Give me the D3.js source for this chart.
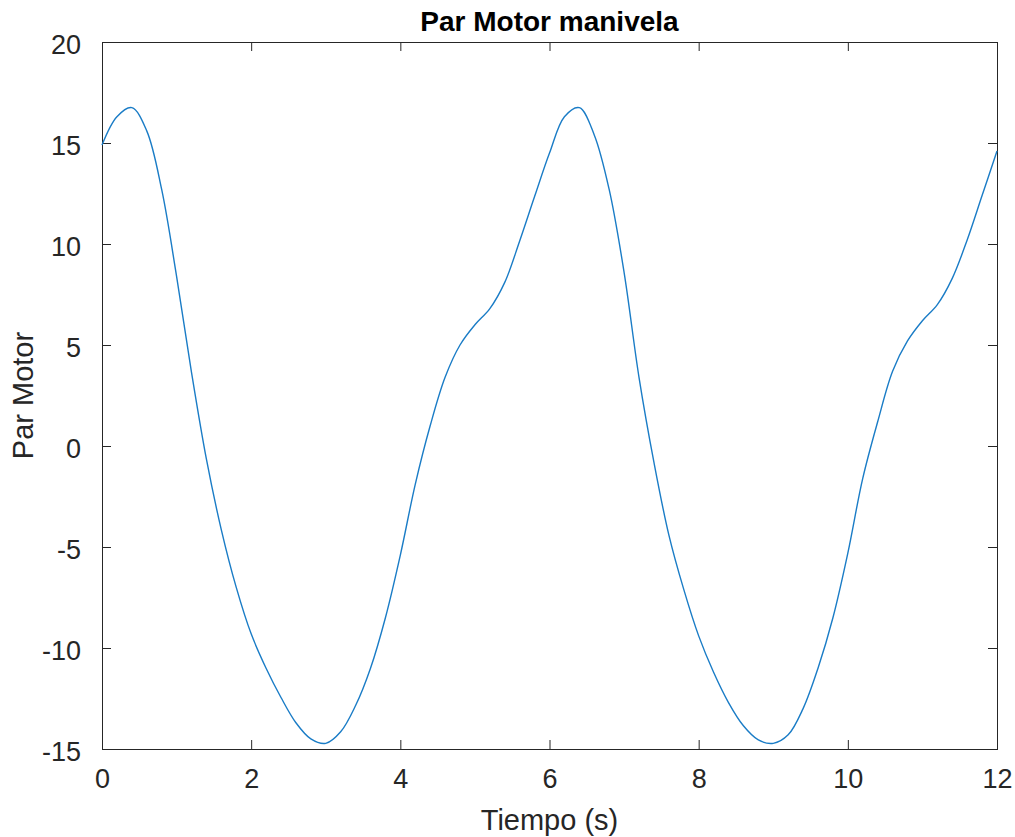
<!DOCTYPE html>
<meta charset="utf-8">
<style>
body { margin: 0; background: #fff; }
.chart text { font-family: "Liberation Sans", Arial, Helvetica, sans-serif; fill: #262626; }
.chart .axis path, .chart .axis line { stroke: #262626; }
.chart .frame { fill: none; stroke: #262626; stroke-width: 1; }
.chart .series { fill: none; stroke: #1a7cc6; stroke-width: 1.4; }
</style>
<body>
<svg class="chart js-chart"></svg>
<script src="https://cdn.jsdelivr.net/npm/d3@7"></script>
<script>
"use strict";

// values, t = 0 .. 12 step 0.2
var tiempo = d3.range(0, 61).map(function(i) { return +(i * 0.2).toFixed(1); });
var parMotor = [
    14.9, 16.3, 16.75, 15.6, 12.7, 8.4, 3.65, -0.65, -4.15, -7.0,
    -9.3, -11.0, -12.45, -13.7, -14.5, -14.72, -14.15, -12.85, -11.0, -8.5,
    -5.4, -1.9, 1.0, 3.4, 5.0, 6.0, 6.8, 8.1, 10.15, 12.35,
    14.5, 16.3, 16.75, 15.4, 12.7, 8.6, 3.4, -0.8, -4.4, -7.1,
    -9.4, -11.2, -12.7, -13.85, -14.55, -14.72, -14.3, -13.0, -11.0, -8.5,
    -5.3, -1.6, 1.2, 3.7, 5.2, 6.2, 7.0, 8.3, 10.2, 12.4,
    14.6
];
var xTicks = [0, 2, 4, 6, 8, 10, 12];
var yTicks = [-15, -10, -5, 0, 5, 10, 15, 20];

var margin = { top: 42, right: 18, bottom: 88, left: 102 },
    containerWidth = 1015,
    containerHeight = 837,
    width = containerWidth - margin.left - margin.right,
    height = containerHeight - margin.top - margin.bottom,
    tickLen = 9;

var svg = d3.select(".js-chart")
    .attr("width", containerWidth)
    .attr("height", containerHeight);

var g = svg.append("g")
    .attr("transform", "translate(" + margin.left + "," + margin.top + ")");

var x = d3.scaleLinear().domain([0, 12]).range([0, width]);
var y = d3.scaleLinear().domain([-15, 20]).range([height, 0]);

var plainNumber = function(d) { return String(d); };

// bottom axis with labels
g.append("g")
    .attr("class", "axis")
    .attr("transform", "translate(0," + height + ")")
    .call(d3.axisBottom(x).tickValues(xTicks).tickFormat(plainNumber)
        .tickSizeInner(-tickLen).tickSizeOuter(0).tickPadding(20))
    .call(function(s) {
        s.select(".domain").remove();
        s.selectAll("text").attr("font-size", 27).attr("font-family", null);
    });

// top ticks
g.append("g")
    .attr("class", "axis")
    .call(d3.axisTop(x).tickValues(xTicks).tickSizeInner(-tickLen).tickSizeOuter(0).tickFormat(""))
    .call(function(s) { s.select(".domain").remove(); });

// left axis with labels
g.append("g")
    .attr("class", "axis")
    .call(d3.axisLeft(y).tickValues(yTicks).tickFormat(plainNumber)
        .tickSizeInner(-tickLen).tickSizeOuter(0).tickPadding(21))
    .call(function(s) {
        s.select(".domain").remove();
        s.selectAll("text").attr("font-size", 27).attr("font-family", null).attr("dy", "0.42em");
    });

// right ticks
g.append("g")
    .attr("class", "axis")
    .attr("transform", "translate(" + width + ",0)")
    .call(d3.axisRight(y).tickValues(yTicks).tickSizeInner(-tickLen).tickSizeOuter(0).tickFormat(""))
    .call(function(s) { s.select(".domain").remove(); });

g.append("rect")
    .attr("class", "frame")
    .attr("x", 0.5)
    .attr("y", 0.5)
    .attr("width", width)
    .attr("height", height);

var line = d3.line()
    .x(function(d, i) { return x(tiempo[i]); })
    .y(function(d) { return y(d); })
    .curve(d3.curveCatmullRom.alpha(0.5));

g.append("path")
    .datum(parMotor)
    .attr("class", "series")
    .attr("d", line);

svg.append("text")
    .attr("x", margin.left + width / 2)
    .attr("y", 31)
    .attr("text-anchor", "middle")
    .attr("font-size", 28)
    .attr("font-weight", "bold")
    .style("fill", "#000")
    .text("Par Motor manivela");

svg.append("text")
    .attr("x", margin.left + width / 2)
    .attr("y", 830)
    .attr("text-anchor", "middle")
    .attr("font-size", 29)
    .text("Tiempo (s)");

svg.append("text")
    .attr("transform", "translate(33," + (margin.top + height / 2) + ") rotate(-90)")
    .attr("text-anchor", "middle")
    .attr("font-size", 29)
    .text("Par Motor");
</script>
</body>
